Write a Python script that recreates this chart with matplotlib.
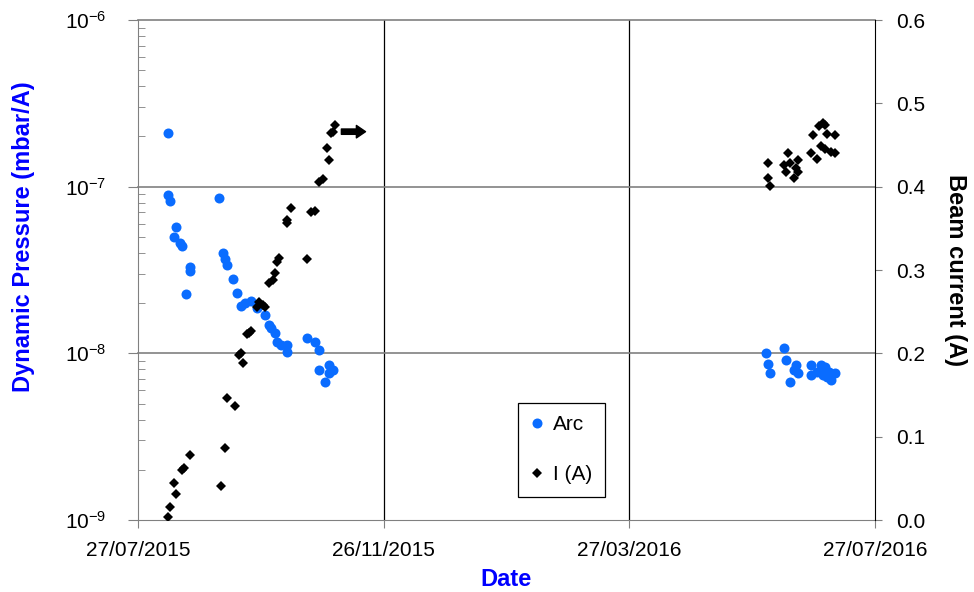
import matplotlib
matplotlib.use("Agg")
import math
import matplotlib.pyplot as plt
import matplotlib.ticker as mticker
from matplotlib.lines import Line2D
import pandas as pd

plt.rcParams['font.family'] = ['Liberation Sans', 'DejaVu Sans']
plt.rcParams['mathtext.fontset'] = 'custom'
plt.rcParams['mathtext.rm'] = 'Liberation Sans'

# ---------------- data ----------------
arc_dates = [
    '2015-08-11', '2015-08-11', '2015-08-12', '2015-08-15', '2015-08-14', '2015-08-17',
    '2015-08-18', '2015-08-22', '2015-08-22', '2015-08-20',
    '2015-09-05', '2015-09-07', '2015-09-08', '2015-09-09', '2015-09-12', '2015-09-14',
    '2015-09-16', '2015-09-18', '2015-09-21', '2015-09-24', '2015-09-28', '2015-09-30',
    '2015-10-01', '2015-10-03', '2015-10-04', '2015-10-06', '2015-10-09', '2015-10-09',
    '2015-10-19', '2015-10-23', '2015-10-25', '2015-10-25', '2015-10-30', '2015-11-01',
    '2015-10-28', '2015-10-30',
    '2016-06-03', '2016-06-04', '2016-06-05', '2016-06-12', '2016-06-13', '2016-06-15',
    '2016-06-18', '2016-06-17', '2016-06-19', '2016-06-25', '2016-06-25', '2016-06-28',
    '2016-06-30', '2016-07-02', '2016-07-01', '2016-07-03', '2016-07-05', '2016-07-07',
    '2016-07-04',
]
arc_values = [
    2.10e-7, 8.9e-8, 8.2e-8, 5.7e-8, 5.0e-8, 4.6e-8,
    4.4e-8, 3.3e-8, 3.1e-8, 2.27e-8,
    8.5e-8, 4.0e-8, 3.7e-8, 3.4e-8, 2.8e-8, 2.3e-8,
    1.92e-8, 2.0e-8, 2.06e-8, 1.87e-8, 1.70e-8, 1.48e-8,
    1.42e-8, 1.32e-8, 1.17e-8, 1.12e-8, 1.12e-8, 1.02e-8,
    1.24e-8, 1.17e-8, 1.05e-8, 7.9e-9, 8.5e-9, 7.9e-9,
    6.7e-9, 7.6e-9,
    1.0e-8, 8.6e-9, 7.6e-9, 1.08e-8, 9.1e-9, 6.7e-9,
    8.5e-9, 7.9e-9, 7.6e-9, 8.5e-9, 7.4e-9, 7.7e-9,
    8.5e-9, 8.3e-9, 7.4e-9, 7.2e-9, 6.9e-9, 7.6e-9,
    7.7e-9,
]

current_dates = [
    '2015-08-11', '2015-08-12', '2015-08-15', '2015-08-14', '2015-08-18', '2015-08-19',
    '2015-08-22', '2015-09-06', '2015-09-08', '2015-09-09', '2015-09-13', '2015-09-15',
    '2015-09-16', '2015-09-17', '2015-09-19', '2015-09-20', '2015-09-21', '2015-09-24',
    '2015-09-25', '2015-09-27', '2015-09-28', '2015-09-30', '2015-10-02', '2015-10-03',
    '2015-10-04', '2015-10-05', '2015-10-09', '2015-10-09', '2015-10-11', '2015-10-19',
    '2015-10-21', '2015-10-23', '2015-10-25', '2015-10-27', '2015-10-29', '2015-10-30',
    '2015-10-31', '2015-11-01', '2015-11-02',
    '2016-06-04', '2016-06-04', '2016-06-05', '2016-06-12', '2016-06-13', '2016-06-14',
    '2016-06-15', '2016-06-17', '2016-06-19', '2016-06-19', '2016-06-18', '2016-06-25',
    '2016-06-26', '2016-06-28', '2016-06-29', '2016-07-01', '2016-07-02', '2016-07-03',
    '2016-06-30', '2016-07-02', '2016-07-05', '2016-07-07', '2016-07-07',
]
current_values = [
    0.004, 0.016, 0.031, 0.044, 0.060, 0.062,
    0.078, 0.041, 0.086, 0.146, 0.137, 0.198,
    0.200, 0.188, 0.223, 0.224, 0.227, 0.256,
    0.262, 0.258, 0.256, 0.284, 0.288, 0.296,
    0.310, 0.314, 0.360, 0.356, 0.374, 0.313,
    0.370, 0.371, 0.406, 0.409, 0.446, 0.432,
    0.464, 0.466, 0.474,
    0.428, 0.410, 0.401, 0.426, 0.418, 0.440,
    0.428, 0.410, 0.432, 0.418, 0.422, 0.440,
    0.462, 0.433, 0.473, 0.476, 0.474, 0.463,
    0.449, 0.445, 0.442, 0.440, 0.462,
]

# arrow annotation (continuing current)
arrow_start = '2015-11-05'
arrow_end = '2015-11-17'
arrow_level = 0.466

x_ticks = ['2015-07-27', '2015-11-26', '2016-03-27', '2016-07-27']
x_tick_labels = ['27/07/2015', '26/11/2015', '27/03/2016', '27/07/2016']

# ---------------- figure ----------------
fig = plt.figure(figsize=(9.74, 5.92), dpi=100)
ax = fig.add_axes([138 / 974, 72 / 592, 737 / 974, 500 / 592])
ax2 = ax.twinx()

arc_x = pd.to_datetime(arc_dates)
cur_x = pd.to_datetime(current_dates)
xt = pd.to_datetime(x_ticks)

blue = '#0a6cff'
ax.plot(arc_x, arc_values, linestyle='none', marker='o', markersize=7.2,
        color=blue, markeredgewidth=0, label='Arc', zorder=3)
ax2.plot(cur_x, current_values, linestyle='none', marker='D', markersize=4.6,
         color='black', markeredgewidth=0, label='I (A)', zorder=3)

ax2.annotate('', xy=(pd.Timestamp(arrow_end), arrow_level),
             xytext=(pd.Timestamp(arrow_start), arrow_level),
             arrowprops=dict(arrowstyle='simple,head_length=0.55,head_width=0.75,tail_width=0.32',
                             color='black', mutation_scale=12, shrinkA=0, shrinkB=0))

# x axis
ax.set_xlim(xt[0], xt[-1])
ax.set_xticks(xt)
ax.set_xticklabels(x_tick_labels)
ax2.xaxis.set_visible(False)

# left axis (log)
ax.set_yscale('log')
ax.set_ylim(1e-9, 1e-6)
ax.yaxis.set_major_locator(mticker.LogLocator(base=10, numticks=10))
ax.yaxis.set_major_formatter(mticker.FuncFormatter(
    lambda v, p: r'$\mathregular{10^{%d}}$' % round(math.log10(v))))
ax.yaxis.set_minor_locator(mticker.LogLocator(base=10, subs=range(2, 10), numticks=20))
ax.yaxis.set_minor_formatter(mticker.NullFormatter())

# right axis
ax2.set_ylim(0, 0.6)
ax2.set_yticks([0, 0.1, 0.2, 0.3, 0.4, 0.5, 0.6])
ax2.yaxis.set_major_formatter(mticker.FormatStrFormatter('%.1f'))

# grid
for t in xt[1:-1]:
    ax.axvline(t, color='black', lw=0.9, zorder=1)
for v in [1e-8, 1e-7, 1e-6]:
    ax.axhline(v, color='#808080', lw=1.2, zorder=1, clip_on=False)

# spines
ax.spines['top'].set_visible(False)
ax2.spines['top'].set_visible(False)
ax.spines['left'].set_color('#808080')
ax.spines['bottom'].set_color('#808080')
ax2.spines['left'].set_visible(False)
ax2.spines['bottom'].set_visible(False)
ax2.spines['right'].set_color('black')
ax.spines['right'].set_visible(False)

# ticks
ax.tick_params(axis='x', which='major', direction='out', length=6, color='#808080',
               labelsize=15, pad=9)
ax.tick_params(axis='y', which='major', direction='out', length=7, color='#808080',
               labelsize=15, pad=16)
ax.tick_params(axis='y', which='minor', direction='in', length=5, color='#808080')
ax2.tick_params(axis='y', which='major', direction='out', length=5, color='#808080',
                labelsize=15, pad=10)

# labels
ax.set_ylabel('Dynamic Pressure (mbar/A)', color='#0000ff', fontsize=17,
              fontweight='bold')
ax.yaxis.set_label_coords(-0.14, 0.567)
ax.set_xlabel('Date', color='#0000ff', fontsize=17, fontweight='bold', labelpad=6)
ax2.set_ylabel('Beam current (A)', color='black', fontsize=17, fontweight='bold',
               rotation=-90, labelpad=30)

# legend
handles = [Line2D([], [], linestyle='none', marker='o', markersize=7.2, color=blue,
                  markeredgewidth=0),
           Line2D([], [], linestyle='none', marker='D', markersize=4.6, color='black',
                  markeredgewidth=0)]
leg = ax2.legend(handles, ['Arc', 'I (A)'], loc='lower left',
                 bbox_to_anchor=(0.5156, 0.046), fontsize=15, frameon=True,
                 fancybox=False, edgecolor='black', framealpha=1, labelspacing=1.5,
                 handlelength=0.6, handletextpad=0.5, borderpad=0.6, borderaxespad=0)
leg.get_frame().set_linewidth(0.9)

fig.savefig('out.png', dpi=100)
